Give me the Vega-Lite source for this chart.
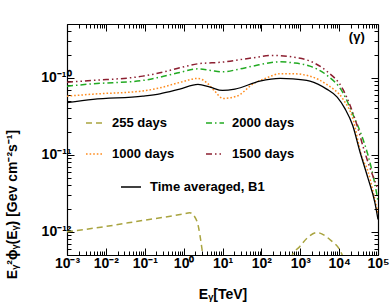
{
  "$schema": "https://vega.github.io/schema/vega-lite/v6.json",
  "width": 311,
  "height": 231,
  "autosize": {"type": "none"},
  "padding": {"left": 67, "top": 24, "right": 12, "bottom": 51},
  "background": "white",
  "config": {
    "view": {"stroke": null},
    "font": "Liberation Sans",
    "axis": {"grid": false, "domainColor": "black", "domainWidth": 1.2, "tickColor": "black", "tickWidth": 1, "labelColor": "black", "titleColor": "black", "labelOverlap": false, "labelFlush": false, "labelBound": false}
  },
  "data": {"values": [
    {"series": "Time averaged, B1", "E": 0.001, "F": 4.76e-11},
    {"series": "Time averaged, B1", "E": 0.00468, "F": 5.24e-11},
    {"series": "Time averaged, B1", "E": 0.0891, "F": 5.78e-11},
    {"series": "Time averaged, B1", "E": 0.245, "F": 6.19e-11},
    {"series": "Time averaged, B1", "E": 0.794, "F": 7.13e-11},
    {"series": "Time averaged, B1", "E": 2.34, "F": 8.2e-11},
    {"series": "Time averaged, B1", "E": 4.79, "F": 7.57e-11},
    {"series": "Time averaged, B1", "E": 10, "F": 6.85e-11},
    {"series": "Time averaged, B1", "E": 20.9, "F": 7.13e-11},
    {"series": "Time averaged, B1", "E": 91.2, "F": 9.06e-11},
    {"series": "Time averaged, B1", "E": 302, "F": 9.82e-11},
    {"series": "Time averaged, B1", "E": 646, "F": 9.7e-11},
    {"series": "Time averaged, B1", "E": 1778, "F": 9.06e-11},
    {"series": "Time averaged, B1", "E": 4786, "F": 7.13e-11},
    {"series": "Time averaged, B1", "E": 8913, "F": 5.62e-11},
    {"series": "Time averaged, B1", "E": 14125, "F": 3.98e-11},
    {"series": "Time averaged, B1", "E": 22387, "F": 2.4e-11},
    {"series": "Time averaged, B1", "E": 33884, "F": 1.12e-11},
    {"series": "Time averaged, B1", "E": 54954, "F": 5.01e-12},
    {"series": "Time averaged, B1", "E": 83176, "F": 2.4e-12},
    {"series": "Time averaged, B1", "E": 100000, "F": 1.45e-12},

    {"series": "1000 days", "E": 0.001, "F": 5.78e-11},
    {"series": "1000 days", "E": 0.00468, "F": 6.14e-11},
    {"series": "1000 days", "E": 0.0891, "F": 6.76e-11},
    {"series": "1000 days", "E": 0.245, "F": 7.41e-11},
    {"series": "1000 days", "E": 0.794, "F": 8.71e-11},
    {"series": "1000 days", "E": 2.34, "F": 9.82e-11},
    {"series": "1000 days", "E": 3.98, "F": 8.61e-11},
    {"series": "1000 days", "E": 6.31, "F": 6.71e-11},
    {"series": "1000 days", "E": 10.2, "F": 5.4e-11},
    {"series": "1000 days", "E": 23.4, "F": 5.78e-11},
    {"series": "1000 days", "E": 60.3, "F": 8.28e-11},
    {"series": "1000 days", "E": 138, "F": 1.0e-10},
    {"series": "1000 days", "E": 302, "F": 1.13e-10},
    {"series": "1000 days", "E": 646, "F": 1.13e-10},
    {"series": "1000 days", "E": 1778, "F": 1.05e-10},
    {"series": "1000 days", "E": 4786, "F": 8.2e-11},
    {"series": "1000 days", "E": 12589, "F": 5.28e-11},
    {"series": "1000 days", "E": 22387, "F": 3.0e-11},
    {"series": "1000 days", "E": 38019, "F": 9.55e-12},
    {"series": "1000 days", "E": 54954, "F": 6.17e-12},
    {"series": "1000 days", "E": 74131, "F": 3.39e-12},
    {"series": "1000 days", "E": 100000, "F": 1.74e-12},

    {"series": "2000 days", "E": 0.001, "F": 7.8e-11},
    {"series": "2000 days", "E": 0.00468, "F": 8.36e-11},
    {"series": "2000 days", "E": 0.0891, "F": 9.25e-11},
    {"series": "2000 days", "E": 0.245, "F": 1.021e-10},
    {"series": "2000 days", "E": 0.794, "F": 1.175e-10},
    {"series": "2000 days", "E": 2.34, "F": 1.309e-10},
    {"series": "2000 days", "E": 5.01, "F": 1.245e-10},
    {"series": "2000 days", "E": 10.2, "F": 1.197e-10},
    {"series": "2000 days", "E": 25.1, "F": 1.288e-10},
    {"series": "2000 days", "E": 60.3, "F": 1.419e-10},
    {"series": "2000 days", "E": 302, "F": 1.614e-10},
    {"series": "2000 days", "E": 646, "F": 1.567e-10},
    {"series": "2000 days", "E": 1778, "F": 1.419e-10},
    {"series": "2000 days", "E": 4786, "F": 1.084e-10},
    {"series": "2000 days", "E": 12589, "F": 6.38e-11},
    {"series": "2000 days", "E": 22387, "F": 3.39e-11},
    {"series": "2000 days", "E": 38019, "F": 1.78e-11},
    {"series": "2000 days", "E": 54954, "F": 1.0e-11},
    {"series": "2000 days", "E": 83176, "F": 4.17e-12},
    {"series": "2000 days", "E": 100000, "F": 2.51e-12},

    {"series": "1500 days", "E": 0.001, "F": 8.79e-11},
    {"series": "1500 days", "E": 0.00468, "F": 9.25e-11},
    {"series": "1500 days", "E": 0.0891, "F": 1.052e-10},
    {"series": "1500 days", "E": 0.245, "F": 1.161e-10},
    {"series": "1500 days", "E": 0.794, "F": 1.349e-10},
    {"series": "1500 days", "E": 2.34, "F": 1.521e-10},
    {"series": "1500 days", "E": 10.2, "F": 1.6e-10},
    {"series": "1500 days", "E": 60.3, "F": 1.82e-10},
    {"series": "1500 days", "E": 200, "F": 1.954e-10},
    {"series": "1500 days", "E": 646, "F": 1.862e-10},
    {"series": "1500 days", "E": 1778, "F": 1.648e-10},
    {"series": "1500 days", "E": 4786, "F": 1.222e-10},
    {"series": "1500 days", "E": 12589, "F": 7.06e-11},
    {"series": "1500 days", "E": 28184, "F": 2.51e-11},
    {"series": "1500 days", "E": 44668, "F": 1.12e-11},
    {"series": "1500 days", "E": 70795, "F": 5.62e-12},
    {"series": "1500 days", "E": 100000, "F": 3.55e-12},

    {"series": "255 days", "E": 0.001, "F": 1.0e-12},
    {"series": "255 days", "E": 0.01, "F": 1.175e-12},
    {"series": "255 days", "E": 0.0891, "F": 1.406e-12},
    {"series": "255 days", "E": 0.955, "F": 1.698e-12},
    {"series": "255 days", "E": 1.445, "F": 1.766e-12},
    {"series": "255 days", "E": 2.19, "F": 1.38e-12},
    {"series": "255 days", "E": 3.16, "F": 4.79e-13},
    {"series": "255 days", "E": 3.98, "F": 2.0e-13},
    {"series": "255 days", "E": 501, "F": 2.0e-13},
    {"series": "255 days", "E": 603, "F": 4.79e-13},
    {"series": "255 days", "E": 977, "F": 6.46e-13},
    {"series": "255 days", "E": 1585, "F": 8.51e-13},
    {"series": "255 days", "E": 2692, "F": 9.77e-13},
    {"series": "255 days", "E": 5754, "F": 7.94e-13},
    {"series": "255 days", "E": 11749, "F": 5.13e-13},
    {"series": "255 days", "E": 14125, "F": 2.51e-13}
  ]},
  "layer": [
    {
      "transform": [{"filter": "datum.series !== 'Time averaged, B1'"}],
      "mark": {"type": "line", "clip": true, "strokeWidth": 1.5, "interpolate": "monotone"},
      "encoding": {
        "x": {
          "field": "E", "type": "quantitative",
          "scale": {"type": "log", "domain": [0.001, 100000], "nice": false},
          "axis": {
            "orient": "bottom",
            "values": [0.001,0.002,0.003,0.004,0.005,0.006,0.007,0.008,0.009,0.01,0.02,0.03,0.04,0.05,0.06,0.07,0.08,0.09,0.1,0.2,0.3,0.4,0.5,0.6,0.7,0.8,0.9,1,2,3,4,5,6,7,8,9,10,20,30,40,50,60,70,80,90,100,200,300,400,500,600,700,800,900,1000,2000,3000,4000,5000,6000,7000,8000,9000,10000,20000,30000,40000,50000,60000,70000,80000,90000,100000],
            "labelExpr": "abs(log(datum.value)/LN10 - round(log(datum.value)/LN10)) < 0.001 ? ['10⁻³','10⁻²','10⁻¹','10⁰','10¹','10²','10³','10⁴','10⁵'][round(log(datum.value)/LN10)+3] : ''",
            "tickSize": {"condition": {"test": "abs(log(datum.value)/LN10 - round(log(datum.value)/LN10)) < 0.001", "value": -7}, "value": -4},
            "labelFont": "Liberation Sans", "labelFontWeight": "bold", "labelFontSize": 14,
            "labelPadding": 8,
            "title": "Eᵧ[TeV]",
            "titleFont": "Liberation Sans", "titleFontWeight": "bold", "titleFontSize": 14,
            "titleY": 43, "titleBaseline": "alphabetic"
          }
        },
        "y": {
          "field": "F", "type": "quantitative",
          "scale": {"type": "log", "domain": [5e-13, 5e-10], "nice": false},
          "axis": {
            "orient": "left",
            "values": [5e-13,6e-13,7e-13,8e-13,9e-13,1e-12,2e-12,3e-12,4e-12,5e-12,6e-12,7e-12,8e-12,9e-12,1e-11,2e-11,3e-11,4e-11,5e-11,6e-11,7e-11,8e-11,9e-11,1e-10,2e-10,3e-10,4e-10,5e-10],
            "labelExpr": "abs(log(datum.value)/LN10 - round(log(datum.value)/LN10)) < 0.001 ? ['10⁻¹²','10⁻¹¹','10⁻¹⁰'][round(log(datum.value)/LN10)+12] : ''",
            "tickSize": {"condition": {"test": "abs(log(datum.value)/LN10 - round(log(datum.value)/LN10)) < 0.001", "value": -7}, "value": -4},
            "labelFont": "Liberation Sans", "labelFontWeight": "bold", "labelFontSize": 14,
            "labelPadding": 3,
            "title": "Eᵧ²ϕᵧ(Eᵧ) [Gev cm⁻²s⁻¹]",
            "titleFont": "Liberation Sans", "titleFontWeight": "bold", "titleFontSize": 14,
            "titleX": -48, "titleY": 180
          }
        },
        "color": {
          "field": "series", "type": "nominal",
          "scale": {"domain": ["255 days", "1000 days", "2000 days", "1500 days"], "range": ["#a9a43f", "#ff8c1e", "#22aa22", "#8c1f30"]},
          "legend": {"orient": "none", "legendX": 18, "legendY": 89, "columns": 2, "columnPadding": 28, "rowPadding": 14, "title": null, "symbolType": "stroke", "symbolSize": 324, "symbolStrokeWidth": 1.5, "labelFont": "Liberation Sans", "labelFontWeight": "bold", "labelFontSize": 13, "labelOffset": 7, "labelColor": "black", "padding": 0}
        },
        "strokeDash": {
          "field": "series", "type": "nominal",
          "scale": {"domain": ["255 days", "1000 days", "2000 days", "1500 days"], "range": [[6, 4], [1.6, 2], [6, 3, 1.5, 3], [6, 3, 1.5, 3, 1.5, 3]]},
          "legend": {"orient": "none", "legendX": 18, "legendY": 89, "columns": 2, "columnPadding": 28, "rowPadding": 14, "title": null, "symbolType": "stroke", "symbolSize": 324, "symbolStrokeWidth": 1.5, "labelFont": "Liberation Sans", "labelFontWeight": "bold", "labelFontSize": 13, "labelOffset": 7, "labelColor": "black", "padding": 0}
        }
      }
    },
    {
      "transform": [{"filter": "datum.series === 'Time averaged, B1'"}],
      "mark": {"type": "line", "clip": true, "strokeWidth": 1.3, "interpolate": "monotone"},
      "encoding": {
        "x": {
          "field": "E", "type": "quantitative",
          "scale": {"type": "log", "domain": [0.001, 100000], "nice": false},
          "axis": {
            "orient": "top",
            "values": [0.001,0.002,0.003,0.004,0.005,0.006,0.007,0.008,0.009,0.01,0.02,0.03,0.04,0.05,0.06,0.07,0.08,0.09,0.1,0.2,0.3,0.4,0.5,0.6,0.7,0.8,0.9,1,2,3,4,5,6,7,8,9,10,20,30,40,50,60,70,80,90,100,200,300,400,500,600,700,800,900,1000,2000,3000,4000,5000,6000,7000,8000,9000,10000,20000,30000,40000,50000,60000,70000,80000,90000,100000],
            "labels": false,
            "tickSize": {"condition": {"test": "abs(log(datum.value)/LN10 - round(log(datum.value)/LN10)) < 0.001", "value": -7}, "value": -4},
            "title": null
          }
        },
        "y": {
          "field": "F", "type": "quantitative",
          "scale": {"type": "log", "domain": [5e-13, 5e-10], "nice": false},
          "axis": {
            "orient": "right",
            "values": [5e-13,6e-13,7e-13,8e-13,9e-13,1e-12,2e-12,3e-12,4e-12,5e-12,6e-12,7e-12,8e-12,9e-12,1e-11,2e-11,3e-11,4e-11,5e-11,6e-11,7e-11,8e-11,9e-11,1e-10,2e-10,3e-10,4e-10,5e-10],
            "labels": false,
            "tickSize": {"condition": {"test": "abs(log(datum.value)/LN10 - round(log(datum.value)/LN10)) < 0.001", "value": -7}, "value": -4},
            "title": null
          }
        },
        "color": {
          "field": "series", "type": "nominal",
          "scale": {"domain": ["Time averaged, B1"], "range": ["black"]},
          "legend": {"orient": "none", "legendX": 53, "legendY": 152, "title": null, "symbolType": "stroke", "symbolSize": 400, "symbolStrokeWidth": 1.5, "labelFont": "Liberation Sans", "labelFontWeight": "bold", "labelFontSize": 13, "labelOffset": 8, "labelColor": "black", "padding": 0}
        }
      }
    },
    {
      "data": {"values": [{"t": "(γ)"}]},
      "mark": {"type": "text", "font": "Liberation Sans", "fontWeight": "bold", "fontSize": 13, "color": "black"},
      "encoding": {
        "x": {"datum": 28500, "type": "quantitative", "scale": {"type": "log", "domain": [0.001, 100000], "nice": false}, "axis": null},
        "y": {"datum": 3.38e-10, "type": "quantitative", "scale": {"type": "log", "domain": [5e-13, 5e-10], "nice": false}, "axis": null},
        "text": {"field": "t"}
      }
    }
  ],
  "resolve": {
    "scale": {"color": "independent", "strokeDash": "independent"},
    "axis": {"x": "independent", "y": "independent"}
  }
}
